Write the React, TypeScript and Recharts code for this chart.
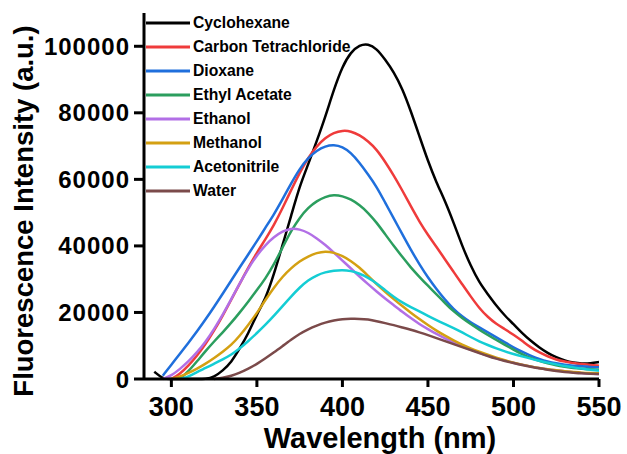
import { LineChart, Line, XAxis, YAxis, Legend } from 'recharts';

document.body.style.margin = '0';

const FONT = '"Liberation Sans", Arial, Helvetica, sans-serif';

// emission wavelength grid (nm)
const wavelength = [
  285, 290, 295, 300, 305, 310, 315, 320, 325, 330, 335, 340, 345, 350, 355, 360, 365, 370,
  375, 380, 385, 390, 395, 400, 405, 410, 415, 420, 425, 430, 435, 440, 445, 450, 455, 460,
  465, 470, 475, 480, 485, 490, 495, 500, 505, 510, 515, 520, 525, 530, 535, 540, 545, 550,
];

// fluorescence intensity (a.u.) per solvent
const cyclohexane = [
  null, 2200, 0, 0, 0, 0, 0, 0, 600, 2500, 5000, 9200, 13700, 19500, 24000, 31500, 40300, 49000,
  58000, 64500, 71500, 78800, 87000, 94000, 98300, 100400, 100800, 99300, 96000, 92300, 87300, 80500, 73000, 65500, 59000, 53500,
  47000, 40000, 34000, 29000, 25500, 22000, 19000, 16500, 13800, 11500, 9500, 7800, 6500, 5500, 4900, 4600, 4700, 5100,
];
const carbonTet = [
  null, null, null, 0, 1500, 4000, 7000, 10500, 14500, 19000, 23800, 28700, 33500, 38000, 42000, 46300, 51300, 56800,
  62000, 66500, 70000, 72500, 74000, 74700, 74500, 73300, 71500, 69000, 65300, 61200, 56700, 51900, 47300, 43300, 39700, 35900,
  32200, 28500, 24800, 21300, 18600, 16500, 15000, 13300, 11500, 9500, 8000, 6800, 5800, 5200, 4800, 4500, 4200, 4000,
];
const dioxane = [
  null, null, 1000, 4300, 7600, 10900, 14300, 17900, 21700, 25600, 29600, 33600, 37500, 41400, 45500, 49500, 54000, 58800,
  63200, 66500, 68700, 70000, 70400, 69800, 68000, 65000, 61500, 57800, 53000, 48300, 43500, 38800, 34500, 30500, 27000, 23800,
  21000, 18800, 17000, 15500, 14000, 12500, 11000, 9500, 8200, 7000, 6000, 5200, 4700, 4300, 4000, 3800, 3600, 3500,
];
const ethylAcetate = [
  null, null, null, null, 0, 2300, 5300, 8400, 11300, 14000, 16900, 20000, 23300, 26700, 30200, 34500, 39500, 44500,
  48500, 51500, 53500, 54800, 55400, 55000, 54000, 52300, 50000, 47000, 43500, 40000, 36700, 33500, 30700, 28000, 25500, 22800,
  20300, 18300, 16500, 14800, 13200, 11700, 10300, 8800, 7400, 6300, 5400, 4700, 4100, 3700, 3300, 3100, 2900, 2800,
];
const ethanol = [
  null, null, 0, 1000, 3000, 5300, 8000, 11200, 15000, 19300, 24000, 28800, 33300, 37200, 40300, 42700, 44400, 45300,
  45000, 44000, 42300, 40300, 38000, 35600, 33200, 30800, 28500, 26300, 24200, 22200, 20200, 18300, 16500, 15000, 13500, 12200,
  11000, 9800, 8800, 7900, 7000, 6200, 5500, 4900, 4300, 3800, 3300, 2900, 2600, 2300, 2000, 1800, 1600, 1500,
];
const methanol = [
  null, null, null, 0, 700, 1800, 3100, 4600, 6300, 8200, 10200, 13000, 16300, 19800, 23800, 27500, 30800, 33300,
  35400, 36900, 37900, 38400, 38000, 37000, 35500, 33500, 31000, 28500, 26200, 24000, 21900, 19900, 18000, 16200, 14500, 13000,
  11600, 10300, 9200, 8200, 7300, 6400, 5600, 4900, 4300, 3800, 3300, 2900, 2600, 2300, 2100, 1900, 1800, 1700,
];
const acetonitrile = [
  null, null, null, null, 0, 700, 2100, 3300, 4600, 5900, 7300, 9200, 11400, 13800, 16300, 19000, 21900, 24800,
  27500, 29700, 31200, 32100, 32600, 32800, 32500, 31700, 30500, 28800, 26700, 24700, 23000, 21600, 20300, 19000, 17700, 16500,
  15300, 14000, 12600, 11300, 10200, 9200, 8300, 7500, 6800, 6100, 5500, 4900, 4400, 3900, 3500, 3100, 2800, 2500,
];
const water = [
  null, null, null, null, null, null, null, null, 0, 300, 900, 1900, 3100, 4500, 6200, 8000, 9900, 11800,
  13600, 15000, 16100, 17000, 17600, 18000, 18100, 18100, 17900, 17400, 16800, 16200, 15500, 14800, 14000, 13200, 12300, 11400,
  10500, 9600, 8700, 7800, 6900, 6100, 5400, 4800, 4200, 3700, 3200, 2800, 2400, 2100, 1900, 1700, 1600, 1500,
];

const xTicks = [300, 350, 400, 450, 500, 550];
const yTicks = [0, 20000, 40000, 60000, 80000, 100000];

const series = [
  { key: 'cyclohexane', name: 'Cyclohexane', color: '#000000', values: cyclohexane },
  { key: 'carbonTet', name: 'Carbon Tetrachloride', color: '#ef3b3b', values: carbonTet },
  { key: 'dioxane', name: 'Dioxane', color: '#1f6fdc', values: dioxane },
  { key: 'ethylAcetate', name: 'Ethyl Acetate', color: '#2b9e5e', values: ethylAcetate },
  { key: 'ethanol', name: 'Ethanol', color: '#b26fe6', values: ethanol },
  { key: 'methanol', name: 'Methanol', color: '#d4a012', values: methanol },
  { key: 'acetonitrile', name: 'Acetonitrile', color: '#14cdd4', values: acetonitrile },
  { key: 'water', name: 'Water', color: '#7b4a4a', values: water },
];

const data = wavelength.map((nm, i) => {
  const row: Record<string, number | null> = { nm };
  series.forEach((s) => {
    row[s.key] = s.values[i];
  });
  return row;
});

const axisStroke = { stroke: '#000', strokeWidth: 3 };

const LegendBox = () => (
  <div>
    {series.map((s) => (
      <div key={s.key} style={{ display: 'flex', alignItems: 'center', height: 24 }}>
        <svg width={44} height={4} style={{ display: 'block' }}>
          <line x1={0} y1={2} x2={44} y2={2} stroke={s.color} strokeWidth={3} />
        </svg>
        <span
          style={{
            marginLeft: 3,
            fontFamily: FONT,
            fontWeight: 'bold',
            fontSize: 15.7,
            color: '#000',
            whiteSpace: 'nowrap',
          }}
        >
          {s.name}
        </span>
      </div>
    ))}
  </div>
);

export default function App() {
  return (
    <LineChart width={627} height={454} data={data} margin={{ top: 13, right: 28, bottom: 0, left: 0 }}>
      <XAxis
        dataKey="nm"
        type="number"
        domain={[284, 550]}
        ticks={xTicks}
        allowDataOverflow
        height={75}
        axisLine={axisStroke}
        tickLine={axisStroke}
        tickSize={8}
        tickMargin={10}
        tick={{ fill: '#000', fontSize: 27, fontWeight: 'bold', fontFamily: FONT }}
        label={{
          content: () => (
            <text x={380} y={448} textAnchor="middle" fontFamily={FONT} fontWeight="bold" fontSize={29} fill="#000">
              Wavelength (nm)
            </text>
          ),
        }}
      />
      <XAxis
        xAxisId="top"
        orientation="top"
        dataKey="nm"
        type="number"
        domain={[284, 550]}
        height={0}
        tick={false}
        tickLine={false}
        axisLine={axisStroke}
      />
      <YAxis
        type="number"
        domain={[0, 110000]}
        ticks={yTicks}
        width={144}
        axisLine={axisStroke}
        tickLine={axisStroke}
        tickSize={10}
        tickMargin={4}
        tick={{ fill: '#000', fontSize: 24, fontWeight: 'bold', fontFamily: FONT, letterSpacing: 1 }}
        label={{
          content: () => (
            <text
              x={33}
              y={211}
              transform="rotate(-90, 33, 211)"
              textAnchor="middle"
              fontFamily={FONT}
              fontWeight="bold"
              fontSize={27.5}
              fill="#000"
            >
              Fluorescence Intensity (a.u.)
            </text>
          ),
        }}
      />
      <YAxis
        yAxisId="right"
        orientation="right"
        type="number"
        domain={[0, 110000]}
        width={0}
        tick={false}
        tickLine={false}
        axisLine={axisStroke}
      />
      <Legend
        layout="vertical"
        align="center"
        verticalAlign="middle"
        wrapperStyle={{ left: 146, top: 11, width: 'auto', height: 'auto' }}
        content={() => <LegendBox />}
      />
      {series.map((s) => (
        <Line
          key={s.key}
          type="basis"
          dataKey={s.key}
          name={s.name}
          stroke={s.color}
          strokeWidth={2.5}
          dot={false}
          activeDot={false}
          isAnimationActive={false}
        />
      ))}
    </LineChart>
  );
}
